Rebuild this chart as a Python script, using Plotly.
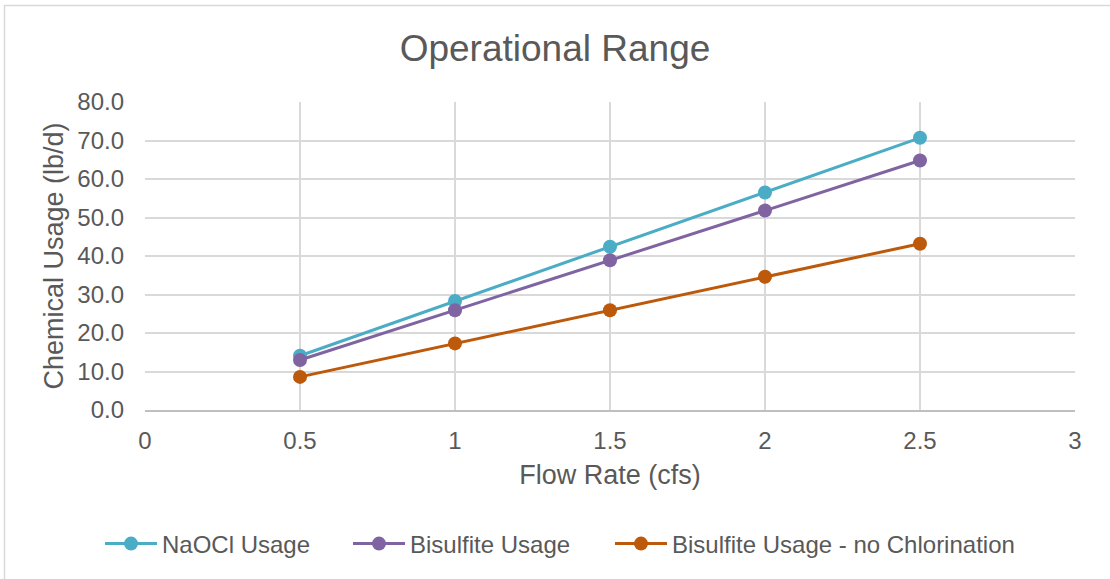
import plotly.graph_objects as go

# Flow rates (cfs) and daily chemical usage (lb/d)
flow_rate = [0.5, 1.0, 1.5, 2.0, 2.5]
naocl_usage = [14.1, 28.3, 42.4, 56.5, 70.7]
bisulfite_usage = [13.0, 25.9, 38.9, 51.8, 64.8]
bisulfite_no_chlor = [8.6, 17.3, 25.9, 34.6, 43.2]

series_names = ["NaOCl Usage", "Bisulfite Usage", "Bisulfite Usage - no Chlorination"]
series_colors = ["#4BACC6", "#8064A2", "#BC590B"]

x_ticks = [0, 0.5, 1, 1.5, 2, 2.5, 3]
x_tick_text = ["0", "0.5", "1", "1.5", "2", "2.5", "3"]
y_ticks = [0, 10, 20, 30, 40, 50, 60, 70, 80]

W, H = 1110, 579
ML, MR, MT, MB = 145, 35, 102, 169
PW, PH = W - ML - MR, H - MT - MB

FONT = "Liberation Sans, Arial, sans-serif"
TXT = "#595959"


def px_x(p):
    return (p - ML) / PW


def px_y(p):
    return (H - MB - p) / PH


legend_ids = ["legend", "legend2", "legend3"]
legend_left_px = [100, 348, 610]

fig = go.Figure()
for name, vals, col, lid in zip(series_names,
                                [naocl_usage, bisulfite_usage, bisulfite_no_chlor],
                                series_colors, legend_ids):
    fig.add_trace(go.Scatter(
        x=flow_rate, y=vals, name=name, mode="lines+markers",
        line=dict(color=col, width=3),
        marker=dict(color=col, size=14),
        legend=lid,
    ))

# Outer chart border
fig.add_shape(type="rect", xref="paper", yref="paper",
              x0=px_x(4.5), x1=px_x(1115), y0=px_y(5.5), y1=px_y(590),
              line=dict(color="#D9D9D9", width=1.5), fillcolor="rgba(0,0,0,0)",
              layer="below")

legend_style = dict(
    orientation="h", xanchor="left",
    y=px_y(544), yanchor="middle",
    font=dict(size=24, color=TXT, family=FONT),
    itemwidth=52, bgcolor="rgba(0,0,0,0)",
)

fig.update_layout(
    width=W, height=H,
    margin=dict(l=ML, r=MR, t=MT, b=MB),
    paper_bgcolor="white", plot_bgcolor="white",
    font=dict(family=FONT, color=TXT, size=24),
    title=dict(text="Operational Range", x=0.5, xanchor="center",
               y=1 - 48 / H, yanchor="middle",
               font=dict(size=37, color=TXT, family=FONT)),
    xaxis=dict(
        range=[0, 3], tickvals=x_ticks, ticktext=x_tick_text,
        showgrid=True, gridcolor="#D9D9D9", gridwidth=1.5,
        showline=True, linecolor="#BFBFBF", linewidth=1.5,
        zeroline=False, ticks="", ticklen=0,
        tickfont=dict(size=24, color=TXT), ticklabelstandoff=8,
        title=dict(text="Flow Rate (cfs)", font=dict(size=27, color=TXT), standoff=13),
    ),
    yaxis=dict(
        range=[0, 80], tickvals=y_ticks, tickformat=".1f",
        showgrid=True, gridcolor="#D9D9D9", gridwidth=1.5,
        zeroline=False, ticks="", showline=False,
        tickfont=dict(size=24, color=TXT), ticklabelstandoff=20,
        title=dict(text="Chemical Usage (lb/d)", font=dict(size=27, color=TXT), standoff=5),
    ),
    legend=dict(x=px_x(legend_left_px[0]), **legend_style),
    legend2=dict(x=px_x(legend_left_px[1]), **legend_style),
    legend3=dict(x=px_x(legend_left_px[2]), **legend_style),
    showlegend=True,
)

fig.write_html("out.html")
